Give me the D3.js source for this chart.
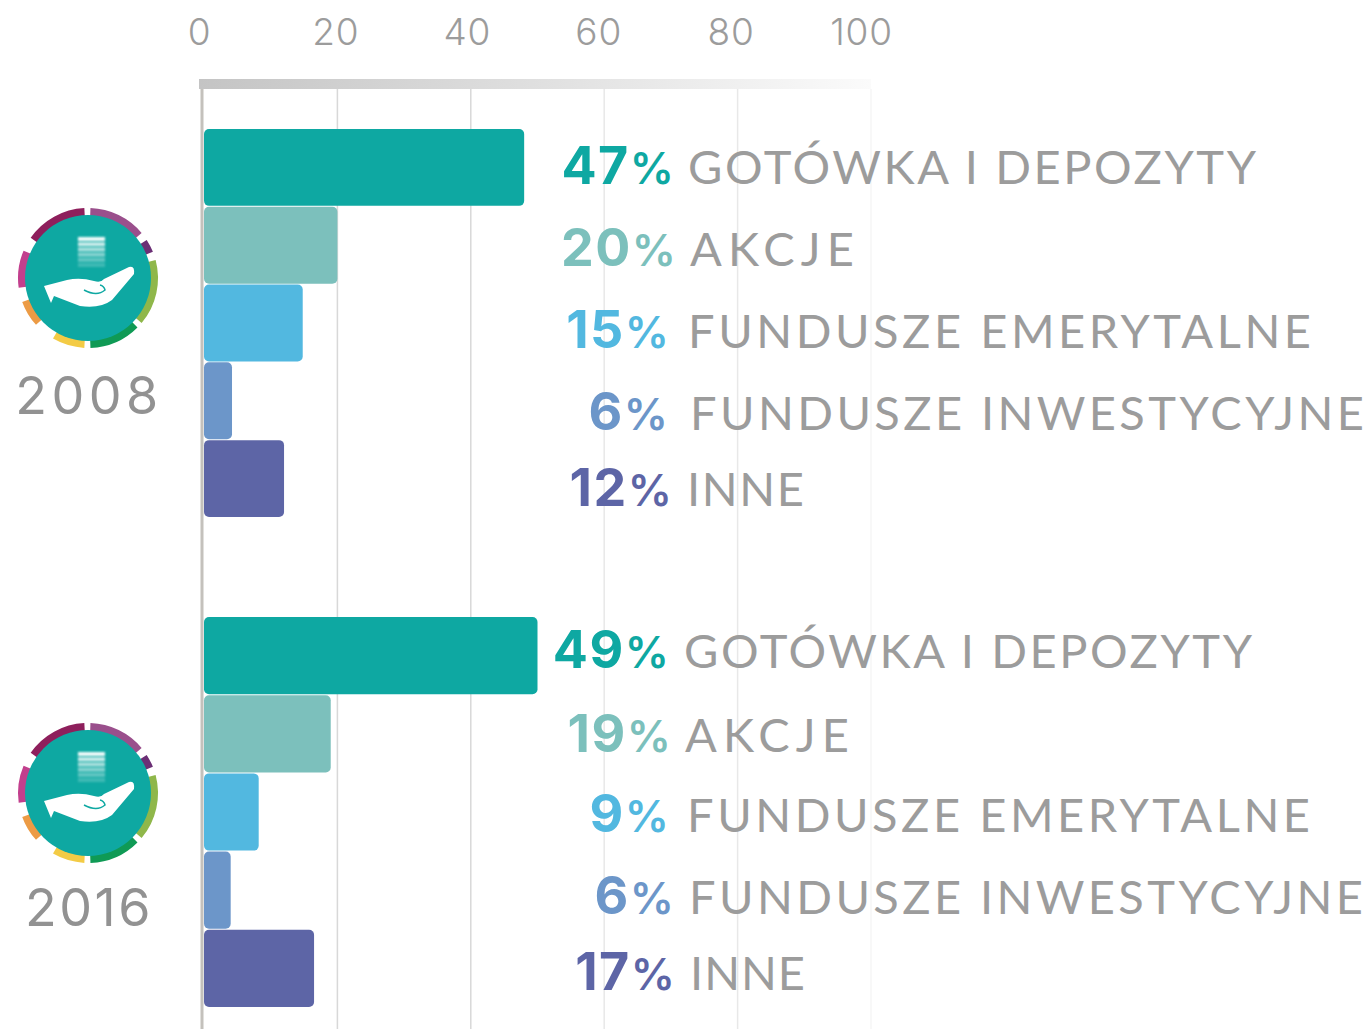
<!DOCTYPE html>
<html>
<head>
<meta charset="utf-8">
<script src="https://cdn.jsdelivr.net/npm/d3@7"></script>
<style>
html, body { margin: 0; padding: 0; background: #fff; }
svg { display: block; }
text { font-family: Inter, Lato, sans-serif; }
</style>
</head>
<body>
<svg id="chart" width="1370" height="1029"></svg>
<script>
// data
const categories = ["GOTÓWKA I DEPOZYTY", "AKCJE", "FUNDUSZE EMERYTALNE", "FUNDUSZE INWESTYCYJNE", "INNE"];
const years = ["2008", "2016"];
const ticks = [0, 20, 40, 60, 80, 100];
// bar lengths as they are drawn, read against the axis
const bars2008 = [48, 20, 14.8, 4.2, 12];
const bars2016 = [50, 19, 8.2, 4, 16.5];
// printed percentages
const labels2008 = ["47", "20", "15", "6", "12"];
const labels2016 = ["49", "19", "9", "6", "17"];

// layout of the hand placed labels
const colors = ["#0ea8a2", "#7cc0bc", "#52b8e0", "#6c96c9", "#5d65a6"];
const pctEnd = [[674, 676, 669, 668, 672], [669, 671, 669, 674, 675]];
const nameStart = [[688, 690, 688, 690, 687], [684, 685, 687, 689, 690]];
const nameWidth = [[568, 164, 623, 674, 117], [568, 164, 623, 674, 115]];
const baseY = [[184, 266, 348, 430, 506], [668, 752, 832, 914, 990]];
const bands = [[129, 517], [617, 1007]];
const iconY = [278, 793];
const yearBase = [414, 926];
const yearSpacing = [4.5, 2.5];
const tickShift = [0, 4, 3, 2, 2, 0];

const svg = d3.select("#chart");
const x = d3.scaleLinear().domain([0, 100]).range([204, 871]);

// gradient for the axis band, fades out to the right
const defs = svg.append("defs");
const grad = defs.append("linearGradient").attr("id", "band");
grad.append("stop").attr("offset", "0%").attr("stop-color", "#c4c4c4");
grad.append("stop").attr("offset", "55%").attr("stop-color", "#e2e2e2");
grad.append("stop").attr("offset", "100%").attr("stop-color", "#fbfbfb");

defs.append("filter").attr("id", "soft")
    .append("feGaussianBlur").attr("stdDeviation", 0.8);

// grid lines
svg.append("g").selectAll("line").data(ticks.slice(1)).join("line")
    .attr("x1", d => x(d)).attr("x2", d => x(d))
    .attr("y1", 89).attr("y2", 1029)
    .attr("stroke", d => d >= 100 ? "#f6f6f6" : d >= 60 ? "#e8e8e8" : "#d8d8d8")
    .attr("stroke-width", 1.5);

svg.append("rect").attr("x", 199).attr("y", 79).attr("width", 672).attr("height", 10).attr("fill", "url(#band)");
svg.append("line").attr("x1", 202).attr("x2", 202).attr("y1", 89).attr("y2", 1029)
    .attr("stroke", "#c4c1bc").attr("stroke-width", 3);

// axis on top
const axis = d3.axisTop(d3.scaleLinear().domain([0, 100]).range([199, 861])).tickValues(ticks).tickSize(0);
const axisG = svg.append("g").attr("transform", "translate(0,45)").call(axis);
axisG.select(".domain").remove();
axisG.selectAll("text")
    .attr("y", 0)
    .attr("dx", (d, j) => tickShift[j])
    .attr("font-size", 37)
    .attr("font-weight", 300)
    .attr("fill", "#9c9c9c")
    .style("letter-spacing", "0.8px")
    .style("font-family", "Inter, Lato, sans-serif");

function drawYear(i, barVals, labels) {
    const y = d3.scaleBand().domain(categories).range(bands[i]).paddingInner(0.012);
    const g = svg.append("g");

    g.selectAll("rect").data(categories).join("rect")
        .attr("x", x(0))
        .attr("y", d => y(d))
        .attr("width", (d, j) => x(barVals[j]) - x(0))
        .attr("height", y.bandwidth())
        .attr("rx", 5)
        .attr("fill", (d, j) => colors[j]);

    const pct = g.selectAll("text.pct").data(labels).join("text")
        .attr("class", "pct")
        .attr("x", (d, j) => pctEnd[i][j])
        .attr("y", (d, j) => baseY[i][j])
        .attr("text-anchor", "end")
        .attr("fill", (d, j) => colors[j]);
    pct.append("tspan").attr("font-size", 52).attr("font-weight", 700).style("letter-spacing", "1.5px").text(d => d);
    pct.append("tspan").attr("font-size", 44).attr("font-weight", 600).text("%");

    g.selectAll("text.name").data(categories).join("text")
        .attr("class", "name")
        .attr("x", (d, j) => nameStart[i][j])
        .attr("y", (d, j) => baseY[i][j])
        .attr("font-size", 47)
        .attr("font-weight", 400)
        .attr("fill", "#9c9c9c")
        .attr("textLength", (d, j) => nameWidth[i][j])
        .attr("lengthAdjust", "spacing")
        .style("font-family", "Lato, sans-serif")
        .text(d => d);

    svg.append("text")
        .attr("x", 89)
        .attr("y", yearBase[i])
        .attr("text-anchor", "middle")
        .attr("font-size", 52)
        .attr("font-weight", 400)
        .attr("fill", "#929292")
        .style("letter-spacing", yearSpacing[i] + "px")
        .text(years[i]);

    drawIcon(iconY[i]);
}

// coin in hand badge
const ringAngles = [[2, 50], [57, 68], [75, 130], [135, 178], [183, 210], [228, 250], [262, 293], [305, 357]];
const ringColors = ["#9a4f8c", "#6b2f75", "#8fb74a", "#0f9a55", "#f3cb45", "#ec9b45", "#c23f8d", "#8e1f5c"];

function drawIcon(cy) {
    const g = svg.append("g").attr("transform", "translate(88," + cy + ")");
    const arc = d3.arc().innerRadius(62).outerRadius(70);
    g.selectAll("path.ring").data(ringAngles).join("path")
        .attr("class", "ring")
        .attr("d", d => arc({ startAngle: d[0] * Math.PI / 180, endAngle: d[1] * Math.PI / 180 }))
        .attr("fill", (d, j) => ringColors[j]);
    g.append("circle").attr("r", 63).attr("fill", "#0ea8a2");

    g.append("g").attr("filter", "url(#soft)")
        .selectAll("rect").data([0, 1, 2, 3, 4, 5]).join("rect")
        .attr("x", -10).attr("width", 27)
        .attr("y", d => -41 + d * 5.2)
        .attr("height", 4)
        .attr("fill", "#fff")
        .attr("opacity", d => 0.95 - d * 0.15);

    g.append("path")
        .attr("d", "M-44,8 L-21,2 Q-8,-1 6,3 Q13,5 16,1 L41,-11 Q47,-13 46,-4 L24,22 Q12,31 -8,28 L-34,18 L-37,25 Z")
        .attr("fill", "#fff");
    g.append("path")
        .attr("d", "M-4,12 Q9,19 17,12 Q16,8 12,7")
        .attr("fill", "none").attr("stroke", "#0ea8a2").attr("stroke-width", 1.5);
}

drawYear(0, bars2008, labels2008);
drawYear(1, bars2016, labels2016);
</script>
</body>
</html>
